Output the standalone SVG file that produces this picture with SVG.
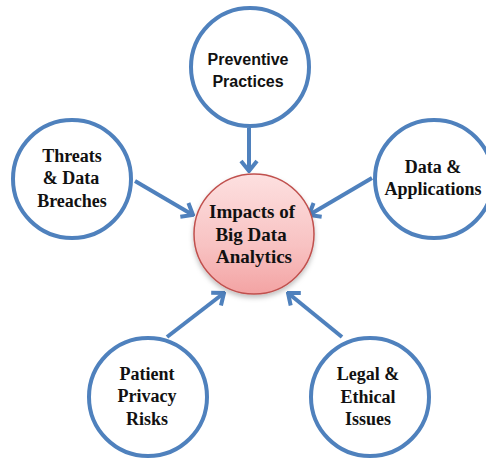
<svg xmlns="http://www.w3.org/2000/svg" width="486" height="460" viewBox="0 0 486 460">
  <style>
    .ring { fill: #ffffff; stroke: #4f81bd; stroke-width: 4; }
    .hub { fill: url(#hubFill); stroke: #c0504d; stroke-width: 1.5; filter: url(#hubShadow); }
    .serif { font-family: "Liberation Serif", "Times New Roman", serif; font-weight: 700; font-size: 18px; fill: #111111; text-anchor: middle; }
    .sans { font-family: "Liberation Sans", Arial, sans-serif; font-weight: 700; font-size: 16px; fill: #111111; text-anchor: middle; }
    .big { font-size: 19px; }
    .link { stroke: #4f81bd; stroke-width: 4; fill: none; marker-end: url(#chevron); }
  </style>
  <defs>
    <linearGradient id="hubFill" x1="0" y1="0" x2="0" y2="1">
      <stop offset="0" stop-color="#fde0e0"/>
      <stop offset="0.6" stop-color="#f8c2c2"/>
      <stop offset="1" stop-color="#f3a3a3"/>
    </linearGradient>
    <filter id="hubShadow" x="-20%" y="-20%" width="140%" height="150%">
      <feDropShadow dx="0" dy="3" stdDeviation="2.5" flood-color="#000000" flood-opacity="0.25"/>
    </filter>
    <marker id="chevron" viewBox="-14 -10 16 20" markerWidth="16" markerHeight="20" refX="0" refY="0" markerUnits="userSpaceOnUse" orient="auto">
      <path d="M -10 -8 L 0 0 L -10 8" fill="none" stroke="#4f81bd" stroke-width="4" stroke-linejoin="miter" stroke-linecap="butt"/>
    </marker>
  </defs>

  <!-- connectors into the hub -->
  <g id="connectors">
    <line class="link" x1="249" y1="128" x2="249" y2="171"/>
    <line class="link" x1="135" y1="181" x2="193" y2="215"/>
    <line class="link" x1="372" y1="178" x2="309" y2="215"/>
    <line class="link" x1="167" y1="337" x2="224" y2="293"/>
    <line class="link" x1="342" y1="337" x2="288" y2="293"/>
  </g>

  <g id="hub">
    <circle class="hub" cx="254" cy="234" r="60"/>
    <text class="serif big" x="252" y="218">Impacts of</text>
    <text class="serif big" x="251" y="241">Big Data</text>
    <text class="serif big" x="254" y="263">Analytics</text>
  </g>

  <g id="preventive">
    <circle class="ring" cx="250" cy="67" r="59"/>
    <text class="sans" x="248" y="65">Preventive</text>
    <text class="sans" x="248" y="87">Practices</text>
  </g>

  <g id="threats">
    <circle class="ring" cx="72" cy="179" r="59"/>
    <text class="serif" x="72" y="162">Threats</text>
    <text class="serif" x="71" y="184">&amp; Data</text>
    <text class="serif" x="72" y="207">Breaches</text>
  </g>

  <g id="data-apps">
    <circle class="ring" cx="434" cy="179" r="59"/>
    <text class="serif" x="433" y="173">Data &amp;</text>
    <text class="serif" x="433" y="195">Applications</text>
  </g>

  <g id="patient">
    <circle class="ring" cx="148" cy="397" r="59"/>
    <text class="serif" x="147" y="380">Patient</text>
    <text class="serif" x="147" y="402">Privacy</text>
    <text class="serif" x="147" y="425">Risks</text>
  </g>

  <g id="legal">
    <circle class="ring" cx="370" cy="397" r="59"/>
    <text class="serif" x="368" y="380">Legal &amp;</text>
    <text class="serif" x="368" y="403">Ethical</text>
    <text class="serif" x="368" y="425">Issues</text>
  </g>
</svg>
